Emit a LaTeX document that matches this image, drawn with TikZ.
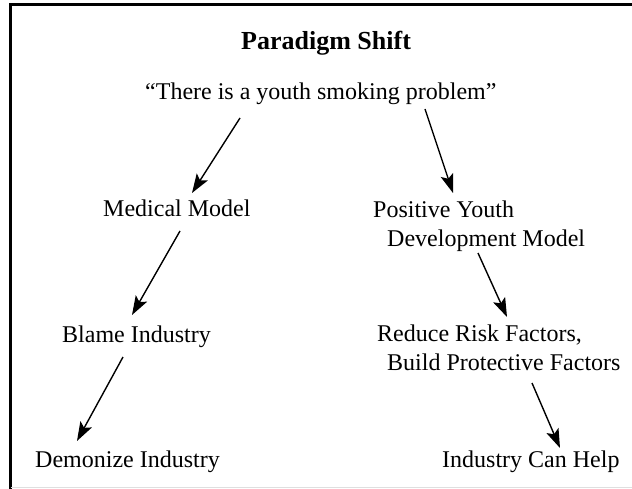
\documentclass[tikz,border=0pt]{standalone}
\usepackage{fontspec}
\setmainfont{Liberation Serif}
\usetikzlibrary{arrows.meta}
\begin{document}
\begin{tikzpicture}[x=1pt,y=-1pt,
  lbl/.style={inner sep=0pt,anchor=base west,align=left,font=\fontsize{24}{29}\selectfont},
  flow/.style={line width=1.4pt,-{Stealth[length=19pt,width=13pt,inset=4pt]}}]
\useasboundingbox (0,0) rectangle (632,489);
\draw[line width=2.5pt] (10.5,489) -- (10.5,4.5) -- (632,4.5);
\draw[gray!25,line width=0.8pt] (10.5,487.5) -- (632,487.5);

\node[lbl,font=\fontsize{26}{30}\selectfont\bfseries] (title) at (241,50) {Paradigm Shift};
\node[lbl] (quote) at (145,100) {“There is a youth smoking problem”};

\node[lbl] (medical) at (103,217) {Medical Model};
\node[lbl] (positive) at (373,247) {Positive Youth\\\hspace*{14pt}Development Model};

\node[lbl] (blame) at (62,342) {Blame Industry};
\node[lbl] (reduce) at (377,370) {Reduce Risk Factors,\\\hspace*{10pt}Build Protective Factors};

\node[lbl] (demonize) at (35,467) {Demonize Industry};
\node[lbl] (help) at (442,467) {Industry Can Help};

\draw[flow] ([xshift=95pt,yshift=-18pt]quote.base west) -- ([xshift=89pt,yshift=24pt]medical.base west);
\draw[flow] ([xshift=280pt,yshift=-9pt]quote.base west) -- ([xshift=80pt,yshift=54pt]positive.base west);
\draw[flow] ([xshift=77pt,yshift=-14pt]medical.base west) -- ([xshift=70pt,yshift=27pt]blame.base west);
\draw[flow] ([xshift=105pt,yshift=-6pt]positive.base west) -- ([xshift=130pt,yshift=53pt]reduce.base west);
\draw[flow] ([xshift=61pt,yshift=-15pt]blame.base west) -- ([xshift=42pt,yshift=26pt]demonize.base west);
\draw[flow] ([xshift=155pt,yshift=-13pt]reduce.base west) -- ([xshift=118pt,yshift=19pt]help.base west);
\end{tikzpicture}
\end{document}
